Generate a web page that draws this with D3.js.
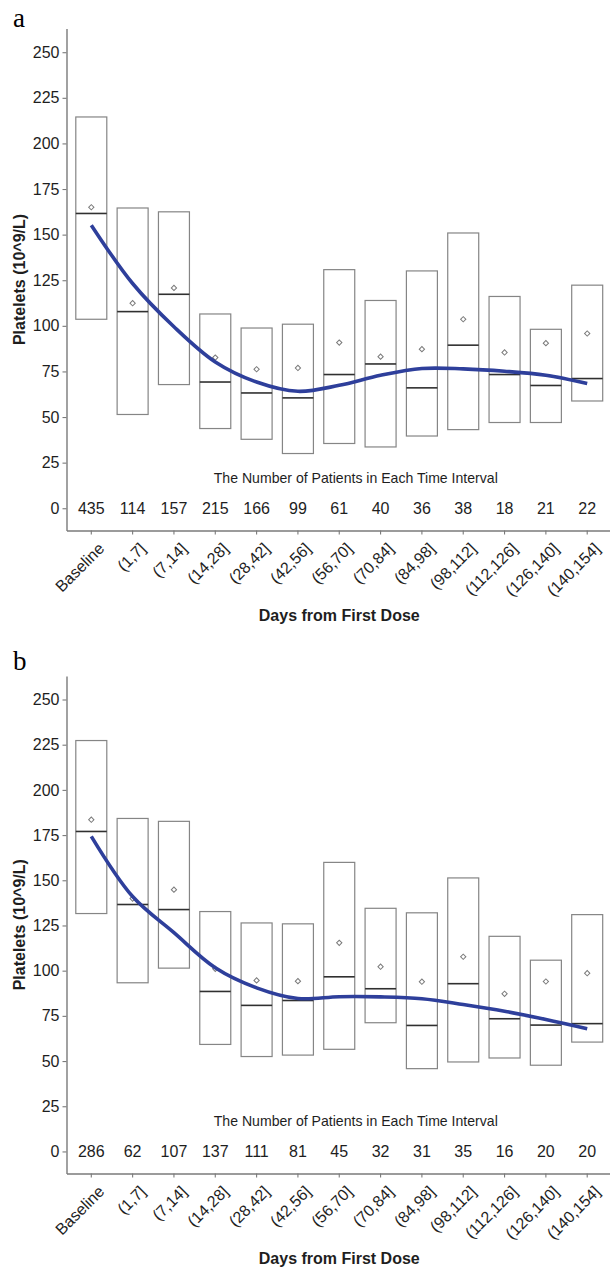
<!DOCTYPE html>
<html>
<head>
<meta charset="utf-8">
<script src="https://cdn.jsdelivr.net/npm/d3@7"></script>
<style>
  body { margin: 0; background: #fff; }
  svg { display: block; font-family: "Liberation Sans", Arial, sans-serif; }
</style>
</head>
<body>
<div id="chart"></div>
<script>
const width = 610;
const height = 1267;

// intervals on the x axis
const categories = ["Baseline", "(1,7]", "(7,14]", "(14,28]", "(28,42]", "(42,56]", "(56,70]",
  "(70,84]", "(84,98]", "(98,112]", "(112,126]", "(126,140]", "(140,154]"];
const yTicks = [0, 25, 50, 75, 100, 125, 150, 175, 200, 225, 250];

// panel a
const countsA = [435, 114, 157, 215, 166, 99, 61, 40, 36, 38, 18, 21, 22];
const q1A = [103.6, 51.4, 67.8, 43.7, 37.8, 30, 35.5, 33.6, 39.6, 43.1, 47, 47, 58.8];
const medianA = [161.6, 107.8, 117.3, 69.2, 63.2, 60.5, 73.3, 79.1, 66, 89.4, 73.3, 67.3, 71.1];
const q3A = [214.5, 164.6, 162.5, 106.5, 98.8, 100.9, 130.8, 113.9, 130.1, 150.9, 116.1, 98.1, 122.3];
const meanA = [165, 112.4, 120.8, 82.6, 76.2, 76.9, 90.8, 83.1, 87.2, 103.6, 85.4, 90.5, 95.8];
const smoothA = [155.2, 123.2, 99.5, 80.2, 69.2, 64.1, 67.4, 72.9, 76.6, 76.4, 75.1, 72.9, 68.4];

// panel b
const countsB = [286, 62, 107, 137, 111, 81, 45, 32, 31, 35, 16, 20, 20];
const q1B = [131.6, 93.3, 101.4, 59.2, 52.5, 53.3, 56.5, 71.2, 45.8, 49.5, 51.7, 47.7, 60.5];
const medianB = [177, 136.6, 133.8, 88.5, 80.8, 83.5, 96.6, 90, 69.7, 92.8, 73.4, 69.9, 70.7];
const q3B = [227.3, 184.2, 182.6, 132.7, 126.4, 125.9, 159.9, 134.5, 132, 151.3, 119, 105.8, 131];
const meanB = [183.5, 139.9, 144.8, 101, 94.6, 94.2, 115.4, 102.2, 93.9, 107.7, 87.2, 94, 98.6];
const smoothB = [174.3, 141, 121, 101.6, 90.5, 84.6, 85.6, 85.5, 84.5, 81.3, 77.6, 73, 67.9];

const svg = d3.select("#chart")
  .append("svg")
  .attr("width", width)
  .attr("height", height)
  .attr("viewBox", `0 0 ${width} ${height}`);

const xScale = d3.scaleBand()
  .domain(categories)
  .range([66.5, 612])
  .paddingInner(0.25)
  .paddingOuter(0.225);

drawPanel("a", 0, [530.5, 28.5], countsA, q1A, medianA, q3A, meanA, smoothA);
drawPanel("b", 643, [1173.5, 676], countsB, q1B, medianB, q3B, meanB, smoothB);

function drawPanel(letter, top, yRange, counts, q1, med, q3, mean, smooth) {
  const yScale = d3.scaleLinear().domain([-12.2, 263]).range(yRange);
  const data = categories.map((c, i) => ({
    cat: c, n: counts[i], q1: q1[i], med: med[i], q3: q3[i], mean: mean[i], fit: smooth[i]
  }));
  const g = svg.append("g");
  const cx = (d) => xScale(d.cat) + xScale.bandwidth() / 2;

  // boxes q1 - q3
  g.selectAll("rect.box")
    .data(data)
    .join("rect")
    .attr("class", "box")
    .attr("x", (d) => xScale(d.cat))
    .attr("width", xScale.bandwidth())
    .attr("y", (d) => yScale(d.q3))
    .attr("height", (d) => yScale(d.q1) - yScale(d.q3))
    .attr("fill", "none")
    .attr("stroke", "#858585")
    .attr("stroke-width", 1.2);

  // medians
  g.selectAll("line.med")
    .data(data)
    .join("line")
    .attr("class", "med")
    .attr("x1", (d) => xScale(d.cat))
    .attr("x2", (d) => xScale(d.cat) + xScale.bandwidth())
    .attr("y1", (d) => yScale(d.med))
    .attr("y2", (d) => yScale(d.med))
    .attr("stroke", "#303030")
    .attr("stroke-width", 1.6);

  // means
  g.selectAll("path.mean")
    .data(data)
    .join("path")
    .attr("class", "mean")
    .attr("d", d3.symbol().type(d3.symbolSquare).size(14))
    .attr("transform", (d) => `translate(${cx(d)},${yScale(d.mean)}) rotate(45)`)
    .attr("fill", "#fff")
    .attr("stroke", "#7a7a7a")
    .attr("stroke-width", 1);

  // smoothed trend
  const line = d3.line()
    .x(cx)
    .y((d) => yScale(d.fit))
    .curve(d3.curveCatmullRom.alpha(0.5));
  g.append("path")
    .datum(data)
    .attr("d", line)
    .attr("fill", "none")
    .attr("stroke", "#2E3F9B")
    .attr("stroke-width", 3.6)
    .attr("stroke-linecap", "butt");

  // counts row
  g.selectAll("text.count")
    .data(data)
    .join("text")
    .attr("class", "count")
    .attr("x", cx)
    .attr("y", yScale(0))
    .attr("dy", "0.36em")
    .attr("text-anchor", "middle")
    .style("font-size", "16px")
    .attr("fill", "#1e1e1e")
    .text((d) => d.n);

  g.append("text")
    .attr("x", xScale(categories[6]) + xScale.bandwidth() / 2 + xScale.step() * 0.4)
    .attr("y", yScale(17))
    .attr("dy", "0.36em")
    .attr("text-anchor", "middle")
    .attr("textLength", 284)
    .attr("lengthAdjust", "spacingAndGlyphs")
    .style("font-size", "15px")
    .attr("fill", "#1e1e1e")
    .text("The Number of Patients in Each Time Interval");

  // axes
  const yAxis = g.append("g")
    .attr("transform", `translate(${xScale.range()[0]},0)`)
    .call(d3.axisLeft(yScale).tickValues(yTicks).tickSize(4).tickSizeOuter(0).tickPadding(3));
  const xAxis = g.append("g")
    .attr("transform", `translate(0,${yRange[0]})`)
    .call(d3.axisBottom(xScale).tickSize(4).tickSizeOuter(0));

  [yAxis, xAxis].forEach((ax) => {
    ax.select(".domain").attr("stroke", "#7a7a7a").attr("stroke-width", 1.4);
    ax.selectAll(".tick line").attr("stroke", "#7a7a7a").attr("stroke-width", 1.1);
    ax.selectAll("text").attr("fill", "#1e1e1e").style("font-size", "16px")
      .style("font-family", "'Liberation Sans', Arial, sans-serif");
  });

  xAxis.selectAll(".tick text")
    .attr("x", 0)
    .attr("y", 0)
    .attr("dy", "0.71em")
    .attr("text-anchor", "end")
    .attr("transform", "translate(6,11) rotate(-45)");

  // titles
  g.append("text")
    .attr("transform", `translate(19,${(yRange[0] + yRange[1]) / 2}) rotate(-90)`)
    .attr("dy", "0.36em")
    .attr("text-anchor", "middle")
    .style("font-size", "16px")
    .style("font-weight", "bold")
    .attr("fill", "#1e1e1e")
    .text("Platelets (10^9/L)");

  g.append("text")
    .attr("x", (xScale.range()[0] + xScale.range()[1]) / 2)
    .attr("y", yRange[0] + 90)
    .attr("text-anchor", "middle")
    .style("font-size", "16px")
    .style("font-weight", "bold")
    .attr("fill", "#1e1e1e")
    .text("Days from First Dose");

  // panel letter
  g.append("text")
    .attr("x", 13)
    .attr("y", top + 27)
    .style("font-family", "'Liberation Serif', 'Times New Roman', serif")
    .style("font-size", "27px")
    .attr("fill", "#000")
    .text(letter);
}
</script>
</body>
</html>
